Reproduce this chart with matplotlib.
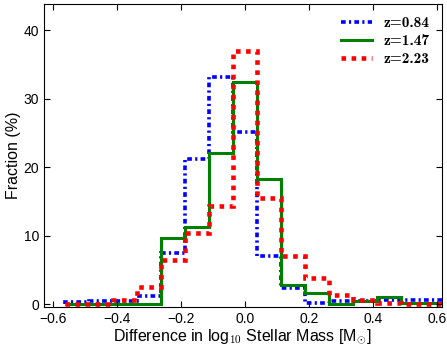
import numpy as np
import matplotlib
matplotlib.use('Agg')
import matplotlib.pyplot as plt

plt.rcParams['font.family'] = ['Liberation Sans', 'DejaVu Sans']
plt.rcParams['mathtext.fontset'] = 'cm'

# bin edges (width 0.075)
edges = [-0.5625, -0.4875, -0.4125, -0.3375, -0.2625, -0.1875, -0.1125, -0.0375,
         0.0375, 0.1125, 0.1875, 0.2625, 0.3375, 0.4125, 0.4875, 0.5625, 0.6375]

frac_084 = [0.3, 0.5, 0.5, 1.2, 7.5, 21.2, 33.2, 25.2, 7.1, 2.4, 0.15, 0.5, 0.5, 0.7, 0.7, 0.7]
frac_147 = [0.1, 0.1, 0.1, 0.1, 9.7, 11.3, 22.1, 32.4, 18.3, 2.8, 1.6, 0.1, 0.5, 1.1, 0.2, 0.2]
frac_223 = [0.0, 0.0, 0.6, 2.5, 6.5, 10.4, 14.3, 37.0, 15.5, 7.1, 3.9, 1.3, 0.6, 0.15, 0.1, 0.1]

labels = ['z=0.84', 'z=1.47', 'z=2.23']

fig = plt.figure(figsize=(4.47, 3.47), dpi=100)
ax = fig.add_axes([0.098, 0.115, 0.891, 0.873])

ax.stairs(frac_084, edges, color='blue', linewidth=2.6, linestyle=(0, (1.3, 0.9, 0.6, 0.9)), label=labels[0])
ax.stairs(frac_147, edges, color='green', linewidth=2.2, linestyle='-', label=labels[1])
ax.stairs(frac_223, edges, color='red', linewidth=3.3, linestyle=(0, (1, 1.2)), label=labels[2])

ax.set_xlim(-0.628, 0.615)
ax.set_ylim(-0.4, 43.8)
ax.set_xticks([-0.6, -0.4, -0.2, 0.0, 0.2, 0.4, 0.6])
ax.set_yticks([0, 10, 20, 30, 40])
ax.tick_params(direction='in', top=True, right=True, labelsize=10, length=4)
ax.set_xlabel(r'Difference in log$_{10}$ Stellar Mass [M$_{\odot}$]', fontsize=11.5, labelpad=1)
ax.set_ylabel('Fraction (%)', fontsize=11.5, labelpad=2)

ax.legend(loc='upper right', frameon=False, prop={'family': 'cmb10', 'size': 11},
          handlelength=2.0, borderaxespad=0.4, labelspacing=0.25, handletextpad=0.8)

plt.savefig('out.png', dpi=100)
